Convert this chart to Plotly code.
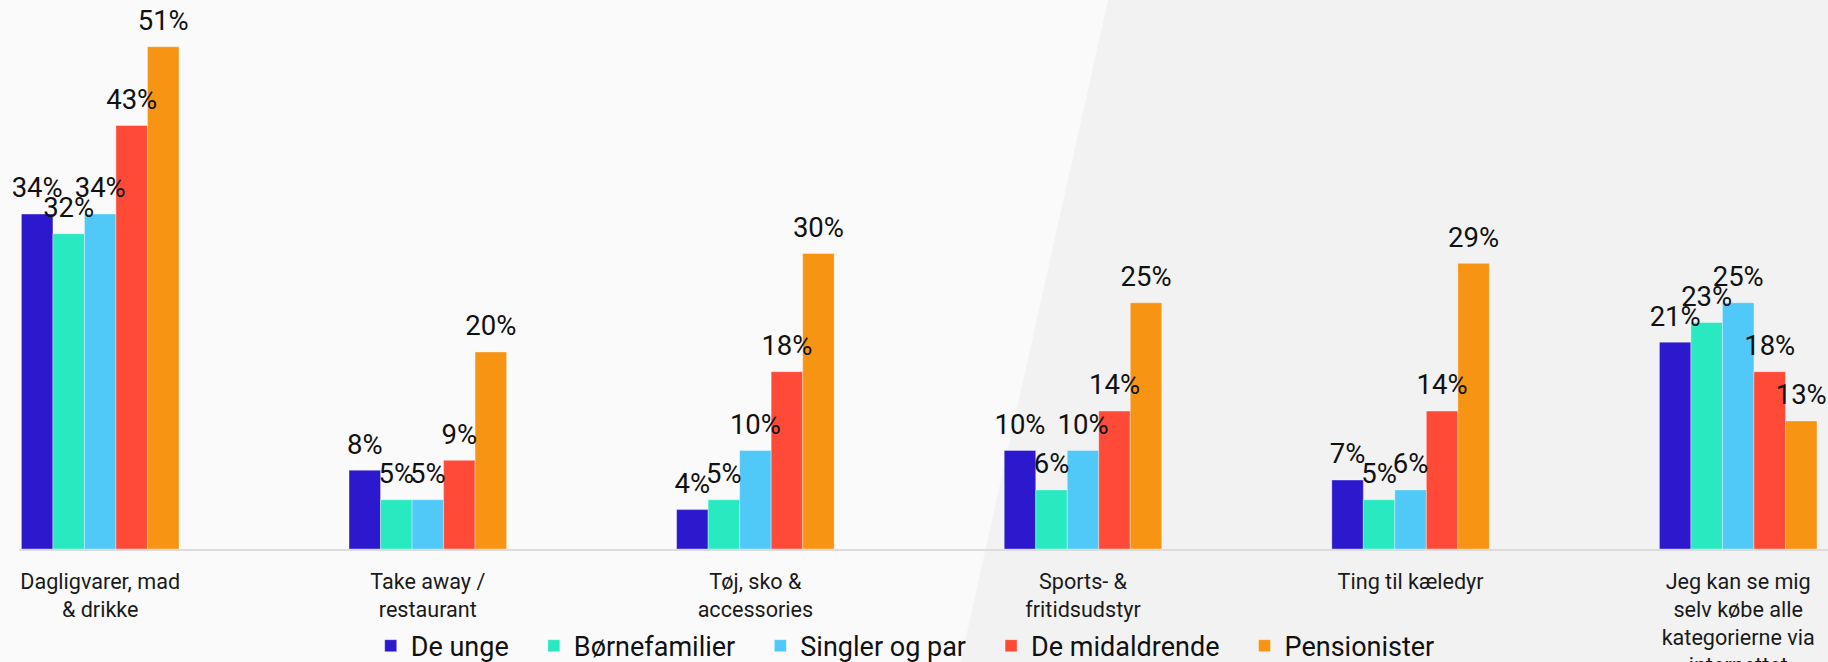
import plotly.graph_objects as go

# Categories (x axis) and their wrapped tick labels
CATEGORIES = [
    "Dagligvarer, mad & drikke",
    "Take away / restaurant",
    "Tøj, sko & accessories",
    "Sports- & fritidsudstyr",
    "Ting til kæledyr",
    "Jeg kan se mig selv købe alle kategorierne via internettet",
]
TICK_LABELS = [
    "Dagligvarer, mad<br>& drikke",
    "Take away /<br>restaurant",
    "Tøj, sko &<br>accessories",
    "Sports- &<br>fritidsudstyr",
    "Ting til kæledyr",
    "Jeg kan se mig<br>selv købe alle<br>kategorierne via<br>internettet",
]

# Share (%) per segment
SERIES_NAMES = ["De unge", "Børnefamilier", "Singler og par", "De midaldrende", "Pensionister"]
DE_UNGE = [34, 8, 4, 10, 7, 21]
BOERNEFAMILIER = [32, 5, 5, 6, 5, 23]
SINGLER_OG_PAR = [34, 5, 10, 10, 6, 25]
DE_MIDALDRENDE = [43, 9, 18, 14, 14, 18]
PENSIONISTER = [51, 20, 30, 25, 29, 13]
SERIES_VALUES = [DE_UNGE, BOERNEFAMILIER, SINGLER_OG_PAR, DE_MIDALDRENDE, PENSIONISTER]

COLORS = ["#2C19CD", "#28E9C0", "#50C8F8", "#FF4A38", "#F79414"]

W, H = 1828, 662
M_L, M_R, M_T, M_B = 19, 0, 0, 113
GAP = 0.519
FONT = "Roboto, Arial, sans-serif"
LEGEND_PAD = "\u00a0\u00a0\u00a0"  # extra room after each legend entry

fig = go.Figure()

for name, vals, col in zip(SERIES_NAMES, SERIES_VALUES, COLORS):
    fig.add_trace(go.Bar(
        x=CATEGORIES, y=vals, name=name + LEGEND_PAD,
        marker=dict(color=col, line=dict(color="rgba(255,255,255,0.35)", width=1)),
        hovertemplate=name + ": %{y}%<extra></extra>",
    ))

# Value labels, grouped like the bars; the invisible marker lifts each label off its bar
for i, (name, vals) in enumerate(zip(SERIES_NAMES, SERIES_VALUES)):
    fig.add_trace(go.Scatter(
        x=CATEGORIES, y=vals, mode="markers+text",
        text=[f"{v}%" for v in vals], textposition="top center",
        textfont=dict(family=FONT, size=27.5, color="#111111"),
        marker=dict(size=14, color="rgba(0,0,0,0)"),
        offsetgroup=str(i), alignmentgroup="labels",
        showlegend=False, hoverinfo="skip", cliponaxis=False,
    ))

# Slanted grey panel on the right-hand side of the background
plot_w = W - M_L - M_R
plot_h = H - M_T - M_B


def to_paper(px, py):
    return (px - M_L) / plot_w, (H - M_B - py) / plot_h


corners = [to_paper(1108, 0), to_paper(W + 2, 0), to_paper(W + 2, H + 2), to_paper(960, H + 2)]
path = "M " + " L ".join(f"{x:.5f},{y:.5f}" for x, y in corners) + " Z"

fig.update_layout(
    width=W, height=H, autosize=False,
    margin=dict(l=M_L, r=M_R, t=M_T, b=M_B, pad=0, autoexpand=False),
    paper_bgcolor="#fafafa",
    plot_bgcolor="rgba(0,0,0,0)",
    barmode="group", bargap=GAP, bargroupgap=0,
    scattermode="group", scattergap=GAP,
    font=dict(family=FONT, color="#1a1a1a"),
    shapes=[dict(type="path", path=path, xref="paper", yref="paper",
                 fillcolor="#f2f2f2", line=dict(width=0), layer="below")],
    legend=dict(
        orientation="h", xref="container", yref="container",
        x=0.2028, xanchor="left", y=0.024, yanchor="middle",
        font=dict(family=FONT, size=27, color="#111111"),
        bgcolor="rgba(0,0,0,0)", traceorder="normal",
    ),
    xaxis=dict(
        type="category", range=[-0.2479, 5.2741], automargin=False,
        tickvals=CATEGORIES, ticktext=TICK_LABELS,
        showline=True, linecolor="#dcdcdc", linewidth=2,
        ticks="outside", ticklen=12, tickcolor="rgba(0,0,0,0)",
        tickfont=dict(family=FONT, size=21.6, color="#1a1a1a"),
        showgrid=False, zeroline=False,
    ),
    yaxis=dict(range=[0, 55.74], visible=False, showgrid=False, zeroline=False,
               automargin=False),
)

fig.write_html("out.html")
